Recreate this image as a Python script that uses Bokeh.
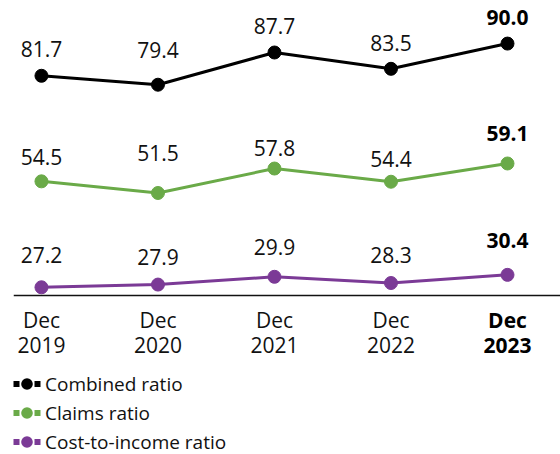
import math
from bokeh.plotting import figure
from bokeh.models import (Range1d, FixedTicker, Legend, LegendItem,
                          ColumnDataSource)
from bokeh.core.properties import value
from bokeh.embed import file_html
from bokeh.resources import INLINE

# ---------------- data ----------------
periods = ["Dec\n2019", "Dec\n2020", "Dec\n2021", "Dec\n2022", "Dec\n2023"]
combined_ratio = [81.7, 79.4, 87.7, 83.5, 90.0]
claims_ratio = [54.5, 51.5, 57.8, 54.4, 59.1]
cost_to_income_ratio = [27.2, 27.9, 29.9, 28.3, 30.4]
series_names = ["Combined ratio", "Claims ratio", "Cost-to-income ratio"]

# ---------------- style ----------------
FONT = "Open Sans"
TEXT = "#111111"
colors = ["#000000", "#6AAA48", "#7B3A96"]
# label lift above each point (px)
label_lift = [[27, 35, 27, 26, 26],
              [24, 40, 21, 23, 30],
              [32, 28, 30, 28, 34]]
AXIS_STANDOFF = 10
LABEL_SIZE = "21px"
AXIS_SIZE = "21px"
LEGEND_SIZE = "19px"
LINE_H = 0.9

n = len(periods)
xs = list(range(n))
AXIS_Y = 25.06
y_top = 101.1
y_bottom = -15.89

p = figure(width=560, height=454,
           x_range=Range1d(-0.24, 4.455), y_range=Range1d(y_bottom, y_top),
           output_backend="svg", toolbar_location=None,
           y_axis_location=None,
           min_border_left=13, min_border_right=0, min_border_top=0,
           min_border_bottom=0, outline_line_color=None)
p.grid.visible = False
p.background_fill_color = "white"
p.border_fill_color = "white"

ax = p.xaxis[0]
ax.fixed_location = AXIS_Y
ax.ticker = FixedTicker(ticks=xs[:-1])
ax.major_label_overrides = {i: periods[i] for i in xs[:-1]}
ax.major_tick_line_color = None
ax.minor_tick_line_color = None
ax.major_tick_out = 0
ax.major_tick_in = 0
ax.minor_tick_out = 0
ax.axis_line_color = "#111111"
ax.axis_line_width = 1.5
ax.major_label_standoff = AXIS_STANDOFF
ax.major_label_text_font = FONT
ax.major_label_text_font_size = AXIS_SIZE
ax.major_label_text_color = TEXT
ax.major_label_text_line_height = LINE_H

# bold last period label
p.text(x=[xs[-1]], y=[AXIS_Y], text=[periods[-1]], y_offset=AXIS_STANDOFF,
       text_align="center", text_baseline="top",
       text_font=value(FONT), text_font_style="bold",
       text_font_size=AXIS_SIZE, text_color="#000000",
       text_line_height=LINE_H)

items = []
for name, ys, col, lifts in zip(series_names,
                                [combined_ratio, claims_ratio, cost_to_income_ratio],
                                colors, label_lift):
    src = ColumnDataSource(dict(
        x=xs, y=ys,
        label=[f"{v:.1f}" for v in ys],
        yo=[-l for l in lifts],
        style=["normal"] * (n - 1) + ["bold"],
        tcol=[TEXT] * (n - 1) + ["#000000"],
    ))
    p.line("x", "y", source=src, line_color=col, line_width=3)
    p.scatter("x", "y", source=src, size=13, fill_color=col, line_color=col,
              line_width=1)
    p.text("x", "y", text="label", source=src, y_offset="yo",
           text_align="center", text_baseline="alphabetic",
           text_font=value(FONT), text_font_size=LABEL_SIZE,
           text_font_style="style", text_color="tcol")

    # legend-only renderers
    lr = p.line(x=[math.nan], y=[math.nan], line_color=col, line_width=6,
                line_dash="0 3 6 15 6 3")
    ls = p.scatter(x=[math.nan], y=[math.nan], size=13, fill_color=col,
                   line_color=None)
    items.append(LegendItem(label=name, renderers=[lr, ls]))

legend = Legend(items=items, location=(-3, -2), orientation="vertical",
                glyph_width=33, glyph_height=29, spacing=0,
                label_standoff=2, padding=0, margin=0,
                border_line_color=None, background_fill_alpha=0,
                label_text_font=FONT, label_text_font_size=LEGEND_SIZE,
                label_text_color=TEXT, label_text_baseline="middle")
p.add_layout(legend)

open("out.html", "w").write(file_html(p, INLINE))
